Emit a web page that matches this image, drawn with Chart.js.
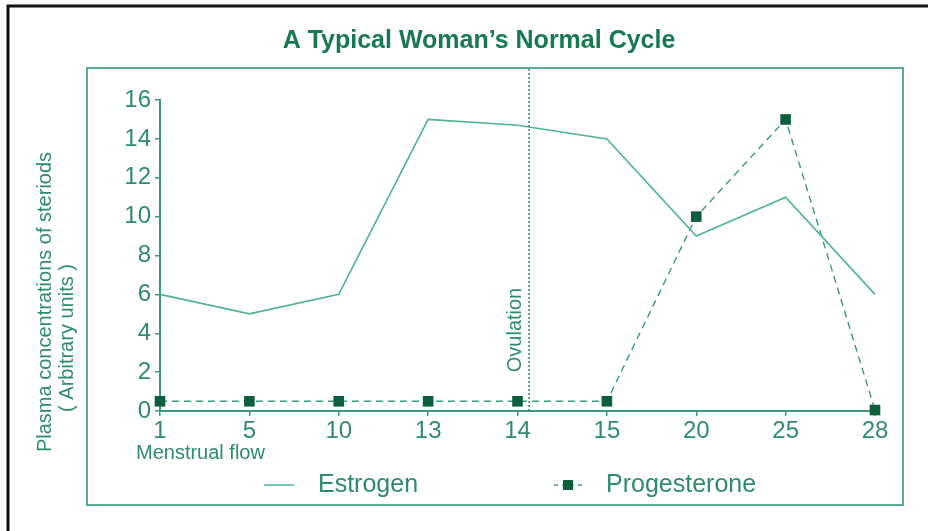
<!DOCTYPE html>
<html>
<head>
<meta charset="utf-8">
<script src="https://cdn.jsdelivr.net/npm/chart.js@4.4.1/dist/chart.umd.min.js"></script>
<style>
  html, body { margin: 0; padding: 0; background: #fff; }
  #wrap { width: 928px; height: 531px; position: relative; }
</style>
</head>
<body>
<div id="wrap"><canvas id="cycleChart" width="928" height="531"></canvas></div>
<script>
// data
const days = ['1', '5', '10', '13', '14', '15', '20', '25', '28'];
const estrogen = [6, 5, 6, 15, 14.7, 14, 9, 11, 6];
const progesterone = [0.5, 0.5, 0.5, 0.5, 0.5, 0.5, 10, 15, 0.05];
const yTicks = [0, 2, 4, 6, 8, 10, 12, 14, 16];
const ovulationAt = 4.13; // between day 14 and 15, as category index

const GREEN = '#2f8c69';
const LINE = '#4fb394';
const DARK = '#0d5e3a';
const FONT = '"Liberation Sans", Arial, sans-serif';

const decor = {
  id: 'decor',
  beforeDraw(chart) {
    const c = chart.ctx;
    c.save();
    c.fillStyle = '#fff';
    c.fillRect(0, 0, chart.width, chart.height);
    // black frame (left + top)
    c.strokeStyle = '#111';
    c.lineWidth = 3;
    c.beginPath();
    c.moveTo(8, chart.height);
    c.lineTo(8, 6);
    c.lineTo(chart.width, 6);
    c.stroke();
    // green box
    c.strokeStyle = '#5aae90';
    c.lineWidth = 2;
    c.strokeRect(87, 68, 816, 437);
    c.restore();
  },
  afterDraw(chart) {
    const c = chart.ctx;
    const x = chart.scales.x;
    const y = chart.scales.y;
    c.save();

    // title
    c.fillStyle = '#177a4e';
    c.font = 'bold 25px ' + FONT;
    c.textAlign = 'center';
    c.textBaseline = 'middle';
    c.fillText('A Typical Woman\u2019s Normal Cycle', 479, 41);

    // y axis title, two rotated lines
    c.fillStyle = GREEN;
    c.font = '20px ' + FONT;
    c.save();
    c.translate(45, 302);
    c.rotate(-Math.PI / 2);
    c.fillText('Plasma concentrations of steriods', 0, 0);
    c.restore();
    c.save();
    c.translate(67, 338);
    c.rotate(-Math.PI / 2);
    c.fillText('( Arbitrary units )', 0, 0);
    c.restore();

    // menstrual flow note under day 1
    c.textAlign = 'left';
    c.fillText('Menstrual flow', 136, 453);

    // ovulation marker
    const ox = x.getPixelForValue(ovulationAt);
    c.strokeStyle = '#2b8a68';
    c.lineWidth = 1.5;
    c.setLineDash([2, 2]);
    c.beginPath();
    c.moveTo(ox, 69);
    c.lineTo(ox, y.getPixelForValue(0));
    c.stroke();
    c.setLineDash([]);
    c.save();
    c.translate(ox - 14, 330);
    c.rotate(-Math.PI / 2);
    c.textAlign = 'center';
    c.fillText('Ovulation', 0, 0);
    c.restore();

    // legend
    const ds = chart.data.datasets;
    const ly = 485;
    c.strokeStyle = LINE;
    c.lineWidth = 1.5;
    c.beginPath();
    c.moveTo(264, ly);
    c.lineTo(294, ly);
    c.stroke();
    c.strokeStyle = '#3d9e7d';
    c.setLineDash([4, 4]);
    c.beginPath();
    c.moveTo(554, ly);
    c.lineTo(582, ly);
    c.stroke();
    c.setLineDash([]);
    c.fillStyle = DARK;
    c.fillRect(563, ly - 5, 10, 10);
    c.fillStyle = GREEN;
    c.font = '25px ' + FONT;
    c.textAlign = 'left';
    c.fillText(ds[0].label, 318, ly);
    c.fillText(ds[1].label, 606, ly);

    c.restore();
  }
};

new Chart(document.getElementById('cycleChart'), {
  type: 'line',
  data: {
    labels: days,
    datasets: [{
      label: 'Estrogen',
      data: estrogen,
      borderColor: LINE,
      borderWidth: 1.6,
      pointRadius: 0,
      tension: 0
    }, {
      label: 'Progesterone',
      data: progesterone,
      borderColor: '#3a9a79',
      borderWidth: 1.4,
      borderDash: [7, 5],
      pointStyle: 'rect',
      pointRadius: 7.5,
      pointBackgroundColor: DARK,
      pointBorderWidth: 0,
      tension: 0
    }]
  },
  options: {
    responsive: false,
    animation: false,
    clip: false,
    layout: { padding: { top: 100, right: 53, left: 0, bottom: 0 } },
    plugins: {
      legend: { display: false },
      tooltip: { enabled: false }
    },
    scales: {
      x: {
        type: 'category',
        offset: false,
        afterFit: (s) => { s.height = 120; },
        grid: { drawOnChartArea: false, tickLength: 5, color: '#3a9a7a', lineWidth: 1.5 },
        border: { color: '#3a9a7a', width: 2 },
        ticks: { color: GREEN, font: { family: FONT, size: 24 }, padding: 1, maxRotation: 0, autoSkip: false }
      },
      y: {
        min: 0,
        max: 16,
        afterFit: (s) => { s.width = 160; },
        afterBuildTicks: (s) => { s.ticks = yTicks.map(v => ({ value: v })); },
        grid: { drawOnChartArea: false, tickLength: 5, color: '#3a9a7a', lineWidth: 1.5 },
        border: { color: '#3a9a7a', width: 2 },
        ticks: { color: GREEN, font: { family: FONT, size: 24 }, padding: 4 }
      }
    }
  },
  plugins: [decor]
});
</script>
</body>
</html>
